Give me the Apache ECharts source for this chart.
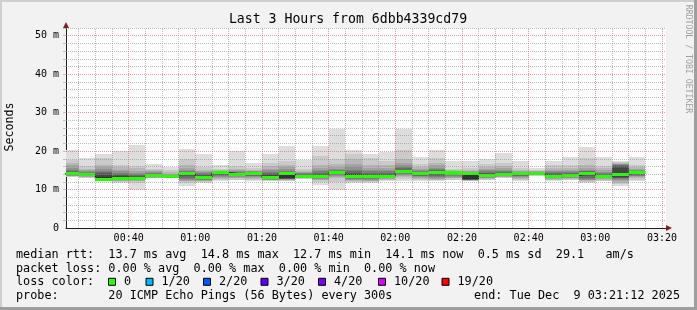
<!DOCTYPE html>
<html>
<head>
<meta charset="utf-8">
<script src="https://cdn.jsdelivr.net/npm/echarts@6/dist/echarts.min.js"></script>
<style>html,body{margin:0;padding:0;background:#f2f2f2;}#main{width:697px;height:310px;}</style>
</head>
<body>
<div id="main"></div>
<script>
// ---- data ----
const categories = ['00:20','00:25','00:30','00:35','00:40','00:45','00:50','00:55',
  '01:00','01:05','01:10','01:15','01:20','01:25','01:30','01:35','01:40','01:45','01:50','01:55',
  '02:00','02:05','02:10','02:15','02:20','02:25','02:30','02:35','02:40','02:45','02:50','02:55',
  '03:00','03:05','03:10'];
const medians = [14.1,13.9,12.7,12.9,12.9,13.6,13.4,14.1,13.2,14.4,14.0,14.2,13.1,14.1,13.3,13.3,14.4,13.5,13.5,13.5,
  14.8,14.2,14.5,14.3,14.2,13.6,13.9,14.1,14.2,13.5,13.7,14.2,13.4,14.0,14.4];
// 20 sorted ping rtts (ms) per 5-minute step
const pings = [
  [13.2,13.3,13.4,13.5,13.6,13.7,13.8,13.9,14.0,14.1,14.2,14.4,14.6,14.9,15.2,15.6,16.3,17.0,17.6,20.2],
  [13.0,13.1,13.2,13.3,13.4,13.5,13.6,13.7,13.8,13.9,14.0,14.1,14.2,14.3,14.5,14.7,15.0,15.4,16.0,18.1],
  [12.25,12.4,12.5,12.55,12.6,12.65,12.7,12.75,12.8,12.9,13.3,13.9,14.3,14.6,14.9,15.3,15.8,16.5,18.3,19.3],
  [11.7,11.9,12.1,12.3,12.4,12.5,12.6,12.7,12.8,12.9,13.1,13.4,13.7,14.0,14.3,14.7,15.2,15.8,16.4,19.9],
  [10.0,11.8,12.1,12.3,12.4,12.5,12.6,12.7,12.8,12.9,13.1,13.3,13.5,13.7,14.0,14.4,14.9,15.5,16.2,21.6],
  [12.9,12.95,13.0,13.1,13.2,13.25,13.3,13.4,13.5,13.6,13.7,13.8,13.9,14.1,14.3,14.5,14.7,15.0,15.4,16.6],
  [12.9,12.95,13.0,13.05,13.1,13.2,13.25,13.3,13.35,13.4,13.45,13.5,13.6,13.7,13.8,13.9,14.1,14.5,15.0,15.9],
  [10.95,11.6,12.1,12.3,12.5,12.8,13.1,13.4,13.7,14.0,14.2,14.3,14.4,14.6,14.8,15.1,15.6,16.3,18.0,20.6],
  [11.7,11.9,12.1,12.3,12.5,12.6,12.8,12.9,13.0,13.2,13.4,13.6,13.8,14.0,14.2,14.5,14.8,15.2,15.8,19.3],
  [12.1,12.4,12.8,13.1,13.3,13.5,13.7,13.9,14.1,14.3,14.4,14.45,14.5,14.6,14.7,14.8,14.9,15.1,15.4,16.4],
  [12.4,12.6,12.9,13.1,13.3,13.5,13.6,13.8,13.9,14.0,14.05,14.1,14.2,14.3,14.5,14.7,15.0,15.4,16.0,19.9],
  [12.1,12.4,12.7,13.0,13.2,13.4,13.6,13.8,14.0,14.2,14.25,14.3,14.4,14.5,14.6,14.7,14.9,15.2,15.7,16.9],
  [12.2,12.3,12.4,12.5,12.6,12.7,12.8,12.9,13.0,13.1,13.4,13.7,14.0,14.3,14.6,15.0,15.4,16.0,17.0,19.3],
  [12.1,12.3,12.5,12.6,12.7,12.75,12.8,12.85,12.9,13.0,14.1,14.2,14.4,14.6,14.9,15.3,15.8,16.5,17.5,21.3],
  [12.7,12.8,12.9,12.95,13.0,13.05,13.1,13.15,13.2,13.3,13.45,13.6,13.8,14.0,14.2,14.4,14.6,14.9,15.3,17.8],
  [11.2,12.0,12.4,12.6,12.8,12.9,13.0,13.1,13.2,13.3,13.5,13.8,14.1,14.4,14.8,15.2,15.7,16.5,18.7,21.3],
  [10.0,12.0,12.9,13.3,13.6,13.8,14.0,14.2,14.3,14.4,14.45,14.5,14.6,14.8,15.0,15.3,15.8,16.6,18.0,25.8],
  [11.8,12.0,12.2,12.4,12.6,12.8,12.9,13.1,13.3,13.5,13.7,14.0,14.3,14.7,15.2,15.8,16.7,17.9,19.2,20.2],
  [11.7,11.9,12.1,12.3,12.5,12.7,12.9,13.1,13.3,13.5,13.7,13.9,14.1,14.4,14.7,15.1,15.6,16.4,18.3,19.3],
  [12.1,12.4,12.6,12.8,13.0,13.1,13.2,13.3,13.4,13.5,13.7,13.9,14.1,14.4,14.7,15.1,15.6,16.4,17.5,19.8],
  [12.25,12.8,13.2,13.5,13.8,14.0,14.2,14.4,14.6,14.8,14.9,15.0,15.2,15.5,15.8,16.3,17.0,17.9,20.2,25.8],
  [12.25,12.5,12.7,13.0,13.2,13.4,13.6,13.8,14.0,14.2,14.3,14.4,14.5,14.6,14.8,15.0,15.3,15.8,16.6,18.5],
  [12.1,12.4,12.6,12.8,13.0,13.3,13.6,13.9,14.2,14.5,14.6,14.7,14.8,15.0,15.3,15.7,16.3,17.0,18.3,20.2],
  [12.4,12.6,12.9,13.1,13.3,13.5,13.7,13.9,14.1,14.3,14.35,14.4,14.45,14.5,14.6,14.7,14.8,15.0,15.4,17.3],
  [12.1,12.2,12.3,12.4,12.45,12.5,12.55,12.6,12.7,12.8,14.2,14.3,14.35,14.4,14.5,14.6,14.8,15.1,15.6,17.4],
  [12.4,12.6,12.8,13.0,13.1,13.2,13.3,13.4,13.5,13.6,13.8,14.0,14.2,14.4,14.7,15.0,15.4,15.9,16.6,17.9],
  [12.9,13.0,13.2,13.3,13.4,13.5,13.6,13.7,13.8,13.9,14.0,14.2,14.4,14.6,14.8,15.1,15.5,16.0,16.8,19.6],
  [12.1,12.4,12.7,13.0,13.2,13.4,13.6,13.8,14.0,14.1,14.2,14.25,14.3,14.4,14.5,14.6,14.8,15.0,15.5,17.3],
  [13.5,13.6,13.7,13.8,13.85,13.9,13.95,14.0,14.1,14.2,14.3,14.35,14.4,14.45,14.5,14.6,14.7,14.8,15.0,15.5],
  [12.1,12.4,12.6,12.8,13.0,13.1,13.2,13.3,13.4,13.5,13.7,13.9,14.1,14.3,14.6,14.9,15.2,15.7,16.4,17.4],
  [12.4,12.5,12.7,12.9,13.1,13.3,13.4,13.5,13.6,13.7,13.8,13.9,14.1,14.3,14.5,14.8,15.2,15.7,16.4,18.5],
  [11.6,11.9,12.2,12.4,12.6,12.8,13.1,13.4,13.8,14.2,14.3,14.4,14.5,14.7,14.9,15.2,15.7,16.4,18.3,21.1],
  [12.1,12.3,12.5,12.7,12.9,13.0,13.1,13.2,13.3,13.4,13.55,13.7,13.9,14.1,14.3,14.6,15.0,15.5,16.2,18.5],
  [10.8,11.4,11.8,12.2,12.5,12.7,12.9,13.1,13.3,13.6,14.2,15.6,16.2,16.4,16.5,16.6,16.7,16.9,17.1,17.3],
  [12.1,12.5,12.9,13.2,13.4,13.6,13.8,14.0,14.2,14.4,14.5,14.6,14.7,14.8,14.9,15.1,15.4,15.8,16.4,18.5]
];
const xLabelValues = ['00:40','01:00','01:20','01:40','02:00','02:20','02:40','03:00','03:20'];
const xMinorValues = ['00:25','00:30','00:35','00:45','00:50','00:55','01:05','01:10','01:15','01:25','01:30','01:35',
  '01:45','01:50','01:55','02:05','02:10','02:15','02:25','02:30','02:35','02:45','02:50','02:55','03:05','03:10','03:15'];
const yLabelValues = [0,10,20,30,40,50];
const yMinorValues = [2,4,6,8,12,14,16,18,22,24,26,28,32,34,36,38,42,44,46,48,52];
const yMajorValues = [10,20,30,40,50];
const viewStart = '00:21:12', viewEnd = '03:21:12';
const stepMinutes = 5;
const yMax = 52;

// ---- style ----
const smokeColors = ['#dddddd','#cacaca','#b7b7b7','#a4a4a4','#919191','#7e7e7e','#6b6b6b','#585858','#454545','#323232'];
const lossColors = [['0','#26ff00'],['1/20','#00b8ff'],['2/20','#0059ff'],['3/20','#5e00ff'],['4/20','#7e00ff'],['10/20','#dd00ff'],['19/20','#ff0000']];
const medianColor = '#26ff00';
const bandHalf = 0.4;

function toMin(s){ const p = s.split(':').map(Number); return p[0]*60 + p[1] + (p[2]||0)/60; }
function fmtMin(v){ const h = Math.floor(v/60 + 1e-9), m = Math.round(v - h*60); return String(h).padStart(2,'0') + ':' + String(m).padStart(2,'0'); }
const xMin = toMin(viewStart), xMax = toMin(viewEnd);

const barData = categories.map((c,k) => [toMin(c), toMin(c) + stepMinutes, k]);
const stepLine = categories.map((c,k) => [toMin(c), medians[k]]);
stepLine.push([toMin(categories[categories.length-1]) + stepMinutes, medians[medians.length-1]]);

function rectFrom(api, t0, v0, t1, v1){
  const a = api.coord([Math.max(t0, xMin), v1]);
  const b = api.coord([Math.min(t1, xMax), v0]);
  const x0 = Math.round(a[0]), x1 = Math.round(b[0]);
  const y0 = Math.round(a[1]), y1 = Math.round(b[1]);
  return {x: x0, y: y0, width: x1 - x0, height: Math.max(1, y1 - y0)};
}

const gridMinor = 'rgba(143,143,143,0.6)';
const gridMajor = 'rgba(222,79,79,0.55)';
const markData = [];
xMinorValues.forEach(v => markData.push({xAxis: toMin(v), lineStyle:{color:gridMinor, width:1, type:[1,1]}}));
xLabelValues.forEach(v => markData.push({xAxis: toMin(v), lineStyle:{color:gridMajor, width:1, type:[1,1]}}));
yMinorValues.forEach(v => markData.push({yAxis: v, lineStyle:{color:gridMinor, width:1, type:[1,1]}}));
yMajorValues.forEach(v => markData.push({yAxis: v, lineStyle:{color:gridMajor, width:1, type:[1,1]}}));

const mono = '"DejaVu Sans Mono", monospace';
const legendFont = '11.8px ' + mono;
const graphics = [];
function txt(x, y, s, opts){
  graphics.push(Object.assign({type:'text', x:x, y:y, silent:true,
    style: Object.assign({text:s, font:legendFont, fill:'#000', textAlign:'left', textVerticalAlign:'middle'}, (opts||{}).style||{})},
    opts && opts.rotation !== undefined ? {rotation: opts.rotation} : {}));
}
// border
graphics.push({type:'rect', shape:{x:0,y:0,width:697,height:2}, style:{fill:'#cfcfcf'}, silent:true});
graphics.push({type:'rect', shape:{x:0,y:0,width:2,height:310}, style:{fill:'#cfcfcf'}, silent:true});
graphics.push({type:'rect', shape:{x:0,y:307,width:697,height:3}, style:{fill:'#9e9e9e'}, silent:true});
graphics.push({type:'rect', shape:{x:694,y:0,width:3,height:310}, style:{fill:'#9e9e9e'}, silent:true});
// title & side texts
txt(348, 19.5, 'Last 3 Hours from 6dbb4339cd79', {style:{font:'13.2px ' + mono, textAlign:'center'}});
txt(10, 127, 'Seconds', {rotation: Math.PI/2, style:{font:'11.6px ' + mono, textAlign:'center'}});
txt(688, 59, 'RRDTOOL / TOBI OETIKER', {rotation: -Math.PI/2, style:{font:'8.2px ' + mono, textAlign:'center', fill:'#a0a0a0'}});
// legend
const L1 = 255, L2 = 268.5, L3 = 282.3, L4 = 296;
txt(16, L1, 'median rtt:  13.7 ms avg  14.8 ms max  12.7 ms min  14.1 ms now  0.5 ms sd  29.1   am/s');
txt(16, L2, 'packet loss: 0.00 % avg  0.00 % max  0.00 % min  0.00 % now');
txt(16, L3, 'loss color:');
const boxX = [108.5, 146, 203.5, 261, 318.5, 378.5, 442];
lossColors.forEach((lc, i) => {
  graphics.push({type:'rect', shape:{x:boxX[i], y:L3-4, width:7, height:7}, style:{fill:lc[1], stroke:'#000', lineWidth:1}, silent:true});
  txt(boxX[i] + 15.5, L3, lc[0]);
});
txt(16, L4, 'probe:       20 ICMP Echo Pings (56 Bytes) every 300s');
txt(680, L4, 'end: Tue Dec  9 03:21:12 2025', {style:{textAlign:'right'}});

const axisCommon = {type:'value', min:xMin, max:xMax, splitLine:{show:false}};
const option = {
  animation:false,
  backgroundColor:'#f2f2f2',
  grid:{left:66, right:31, top:28, bottom:82, show:true, backgroundColor:'#ffffff', borderWidth:0},
  xAxis:[
    Object.assign({}, axisCommon, {position:'bottom',
      axisLine:{show:true, onZero:false, lineStyle:{color:'#1f1f1f', width:1}},
      axisTick:{show:false},
      axisLabel:{show:true, customValues: xLabelValues.map(toMin), formatter: v => fmtMin(v),
        margin:5, color:'#000', fontFamily:'DejaVu Sans Mono', fontSize:10, showMinLabel:true, showMaxLabel:true, hideOverlap:false}}),
    Object.assign({}, axisCommon, {position:'bottom', axisLabel:{show:false}, axisTick:{show:false},
      axisLine:{show:true, onZero:false, symbol:['none','triangle'], symbolSize:[6,6], symbolOffset:[0,3],
        lineStyle:{color:'#801f1f', width:0}}})
  ],
  yAxis:[
    {type:'value', min:0, max:yMax, position:'left', splitLine:{show:false},
      axisLine:{show:true, onZero:false, lineStyle:{color:'#1f1f1f', width:1}},
      axisTick:{show:true, customValues: yMinorValues.concat(yMajorValues), length:3, inside:false,
        lineStyle:{color:'rgba(143,143,143,0.5)'}},
      axisLabel:{show:true, customValues: yLabelValues, formatter: v => v === 0 ? '0' : v + ' m',
        margin:7, color:'#000', fontFamily:'DejaVu Sans Mono', fontSize:10}},
    {type:'value', min:0, max:yMax, position:'left', splitLine:{show:false}, axisLabel:{show:false}, axisTick:{show:false},
      axisLine:{show:true, onZero:false, symbol:['none','triangle'], symbolSize:[6,6], symbolOffset:[0,3],
        lineStyle:{color:'#801f1f', width:0}}}
  ],
  series:[
    {type:'custom', name:'smoke', z:2, xAxisIndex:0, yAxisIndex:0, data:barData,
      renderItem:(params, api) => {
        const k = api.value(2), t0 = api.value(0), t1 = api.value(1);
        const row = pings[k];
        const children = [];
        for (let i = 0; i < 10; i++) {
          children.push({type:'rect', shape: rectFrom(api, t0, row[i], t1, row[19-i]), style:{fill: smokeColors[i]}});
        }
        return {type:'group', children};
      },
      markLine:{silent:true, z:6, symbol:['none','none'], label:{show:false}, animation:false, data:markData}
    },
    {type:'line', name:'median', z:3, xAxisIndex:0, yAxisIndex:0, data:stepLine, step:'end', showSymbol:false, symbol:'none',
      lineStyle:{color:'#202020', width:1}},
    {type:'custom', name:'loss', z:4, xAxisIndex:0, yAxisIndex:0, data:barData,
      renderItem:(params, api) => {
        const k = api.value(2), t0 = api.value(0), t1 = api.value(1);
        return {type:'rect', shape: rectFrom(api, t0, medians[k]-bandHalf, t1, medians[k]+bandHalf), style:{fill: medianColor}};
      }
    }
  ],
  graphic: graphics
};
const chart = echarts.init(document.getElementById('main'));
chart.setOption(option);
</script>
</body>
</html>
